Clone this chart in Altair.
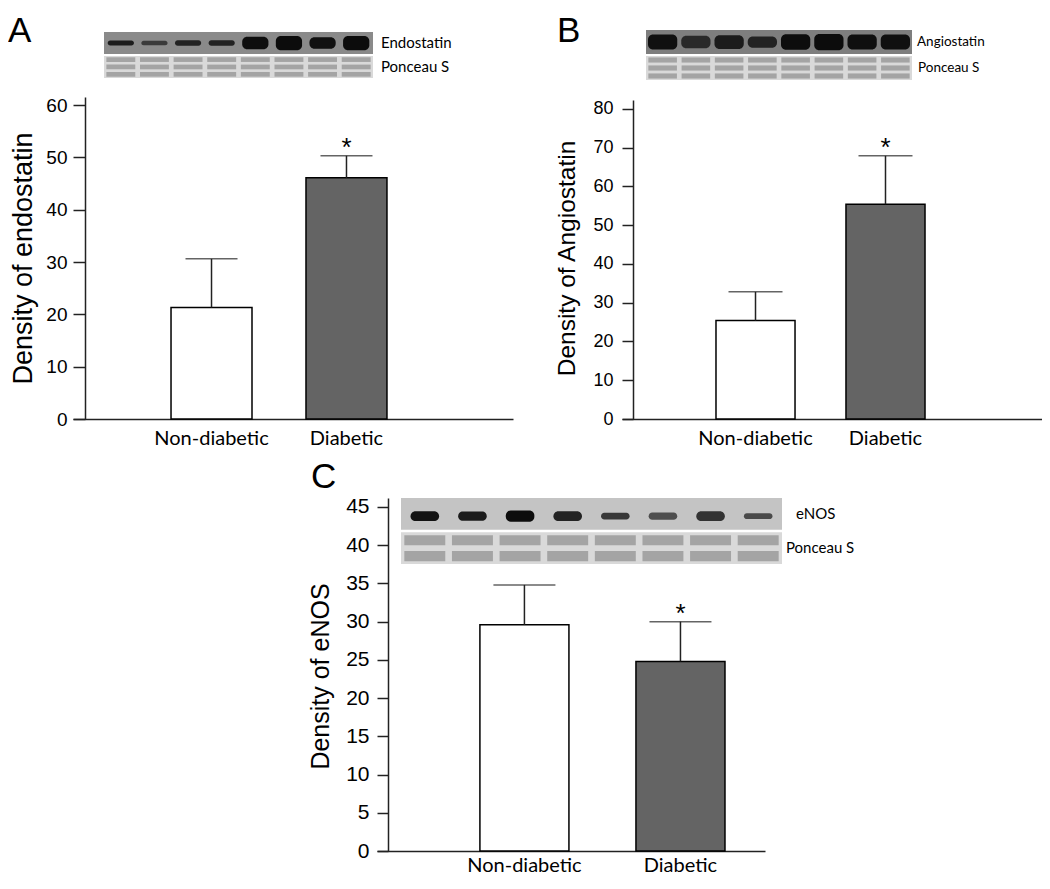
import altair as alt
import pandas as pd

# ---------------- data ----------------
groups = ["Non-diabetic", "Diabetic"]
significance = ["", "*"]

endostatin_mean = [21.3, 46.1]
endostatin_upper = [30.6, 50.3]
angiostatin_mean = [25.4, 55.4]
angiostatin_upper = [32.8, 67.9]
enos_mean = [29.6, 24.8]
enos_upper = [34.8, 30.0]

ticks_a = [0, 10, 20, 30, 40, 50, 60]
ticks_b = [0, 10, 20, 30, 40, 50, 60, 70, 80]
ticks_c = [0, 5, 10, 15, 20, 25, 30, 35, 40, 45]

lanes = [1, 2, 3, 4, 5, 6, 7, 8]
endostatin_density = [0.85, 0.6, 0.8, 0.8, 0.97, 0.98, 0.95, 0.98]
endostatin_thickness = [0.22, 0.2, 0.24, 0.24, 0.55, 0.62, 0.5, 0.62]
angiostatin_density = [0.95, 0.72, 0.85, 0.78, 0.97, 0.98, 0.96, 0.95]
angiostatin_thickness = [0.6, 0.5, 0.55, 0.45, 0.62, 0.65, 0.6, 0.6]
enos_density = [0.95, 0.9, 0.98, 0.85, 0.72, 0.6, 0.75, 0.62]
enos_thickness = [0.3, 0.28, 0.34, 0.3, 0.2, 0.22, 0.3, 0.18]

SANS = "Liberation Sans"
HUM = "Lato"
INK = "#222222"
W, H = 1034, 872


def panel(mean, upper, yticks, ytop, yrange, xrange, pin, pout, align,
          xoff, yoff, title, title_size, label_size, tick_len, label_pad,
          title_x, title_y, cap, xlabel_size, xlabel_pad):
    df = pd.DataFrame({"group": groups, "mean": mean, "upper": upper,
                       "sig": significance})
    xs = alt.Scale(domain=groups, range=xrange, paddingInner=pin,
                   paddingOuter=pout, align=align)
    xax = alt.Axis(orient="bottom", offset=xoff, ticks=False, domainWidth=1.5,
                   domainColor=INK, labelFont=HUM, labelFontSize=xlabel_size,
                   labelColor="black", labelPadding=xlabel_pad, labelAngle=0,
                   title=None, grid=False)
    ys = alt.Scale(domain=[0, ytop], range=yrange, nice=False, zero=False)
    yax = alt.Axis(orient="left", offset=yoff, values=yticks, tickSize=tick_len,
                   tickWidth=1.5, tickColor=INK, domainWidth=1.5,
                   domainColor=INK, labelFont=SANS, labelFontSize=label_size,
                   labelColor="black", labelPadding=label_pad, grid=False,
                   title=title, titleFont=SANS, titleFontSize=title_size,
                   titleFontWeight="normal", titleColor="black",
                   titleAngle=270, titleAlign="center", titleBaseline="middle",
                   titleX=title_x, titleY=title_y)
    X = alt.X("group:N", scale=xs, axis=xax, sort=groups)
    base = alt.Chart(df)
    bars = base.mark_bar(stroke="black", strokeWidth=1.5).encode(
        x=X,
        y=alt.Y("mean:Q", scale=ys, axis=yax),
        fill=alt.Fill("group:N", scale=alt.Scale(domain=groups,
                      range=["#ffffff", "#646464"]), legend=None),
    )
    err = base.mark_rule(color=INK, strokeWidth=1.5).encode(
        x=X, y=alt.Y("mean:Q", scale=ys, axis=yax), y2="upper:Q")
    caps = base.mark_tick(color=INK, thickness=1.5, size=cap).encode(
        x=X, y=alt.Y("upper:Q", scale=ys, axis=yax))
    star = base.mark_text(font=SANS, fontSize=26, baseline="alphabetic",
                          color="black").encode(
        x=X, y=alt.Y("upper:Q", scale=ys, axis=yax), text="sig:N")
    return alt.layer(bars, err, caps, star)


def blot(density, thickness, xrange, yrange, bg, band_w, band_c,
         top_label, label_size, dx_top, dx_bot, n_stripes):
    xs = alt.Scale(domain=[0.5, 8.5], range=xrange, nice=False, zero=False)
    ys = alt.Scale(domain=[0, 2], range=yrange, nice=False, zero=False)
    rows = pd.DataFrame({"x0": [0.5, 0.5], "x1": [8.5, 8.5],
                         "y0": [1.04, 0.0], "y1": [2.0, 0.96],
                         "row": ["target", "ponceau"]})
    background = alt.Chart(rows).mark_rect().encode(
        x=alt.X("x0:Q", scale=xs, axis=None), x2="x1:Q",
        y=alt.Y("y0:Q", scale=ys, axis=None), y2="y1:Q",
        fill=alt.Fill("row:N", scale=alt.Scale(domain=["target", "ponceau"],
                      range=[bg, "#d9d9d9"]), legend=None),
    )
    st = []
    for ln in lanes:
        for k in range(n_stripes):
            c = (k + 0.5) / n_stripes * 0.96
            st.append({"lane": ln, "c": c})
    stripes = pd.DataFrame(st)
    half = 0.96 / n_stripes * 0.32
    pon = alt.Chart(stripes).mark_rect(fill="#a4a4a4").transform_calculate(
        x0="datum.lane - 0.43", x1="datum.lane + 0.43",
        y0=f"datum.c - {half}", y1=f"datum.c + {half}",
    ).encode(
        x=alt.X("x0:Q", scale=xs, axis=None), x2="x1:Q",
        y=alt.Y("y0:Q", scale=ys, axis=None), y2="y1:Q",
    )
    bdf = pd.DataFrame({"lane": lanes, "density": density,
                        "thickness": thickness})
    bands = alt.Chart(bdf).mark_rect(cornerRadius=5).transform_calculate(
        x0=f"datum.lane - {band_w / 2}", x1=f"datum.lane + {band_w / 2}",
        y0=f"{band_c} - datum.thickness / 2",
        y1=f"{band_c} + datum.thickness / 2",
    ).encode(
        x=alt.X("x0:Q", scale=xs, axis=None), x2="x1:Q",
        y=alt.Y("y0:Q", scale=ys, axis=None), y2="y1:Q",
        fill=alt.Fill("density:Q", scale=alt.Scale(domain=[0, 1],
                      range=[bg, "#080808"]), legend=None),
    )
    lab = pd.DataFrame({"x": [8.5], "yt": [1.52], "yb": [0.48],
                        "t": [top_label], "b": ["Ponceau S"]})
    t1 = alt.Chart(lab).mark_text(font=HUM, fontSize=label_size, align="left",
                                  baseline="middle", dx=dx_top,
                                  color="black").encode(
        x=alt.X("x:Q", scale=xs, axis=None),
        y=alt.Y("yt:Q", scale=ys, axis=None), text="t:N")
    t2 = alt.Chart(lab).mark_text(font=HUM, fontSize=label_size, align="left",
                                  baseline="middle", dx=dx_bot,
                                  color="black").encode(
        x=alt.X("x:Q", scale=xs, axis=None),
        y=alt.Y("yb:Q", scale=ys, axis=None), text="b:N")
    return alt.layer(background, pon, bands, t1, t2)


pA = panel(endostatin_mean, endostatin_upper, ticks_a, 61.53, [411, 89],
           [65, 505], 0.4, 0.83, 0.4375, 411 - H, -77,
           "Density of endostatin", 27, 19, 12, 6, -62, 250, 52, 20, 9)
pB = panel(angiostatin_mean, angiostatin_upper, ticks_b, 82.3, [411, 92],
           [614, 1034], 0.392, 0.8115, 0.4455, 411 - H, -625,
           "Density of Angiostatin", 24.5, 18, 11, 9, -66, 250, 54, 20, 9)
pC = panel(enos_mean, enos_upper, ticks_c, 46.17, [843, 490],
           [369, 757], 0.4295, 0.458, 0.72, 843 - H, -380,
           "Density of eNOS", 25, 21, 11, 8, -68, 668, 62, 20, 4)

bA = blot(endostatin_density, endostatin_thickness, [96, 365], [70, 24],
          "#8a8a8a", 0.78, 1.52, "Endostatin", 15, 8, 8, 3)
bB = blot(angiostatin_density, angiostatin_thickness, [638, 904], [72, 22],
          "#7e7e7e", 0.88, 1.52, "Angiostatin", 13.5, 5, 6, 3)
bC = blot(enos_density, enos_thickness, [393, 774], [556, 490],
          "#c4c4c4", 0.6, 1.45, "eNOS", 15, 14, 4, 2)


def letter(ch, x, y):
    return alt.Chart(pd.DataFrame({"t": [ch]})).mark_text(
        font=SANS, fontSize=35, align="left", baseline="top",
        color="black").encode(x=alt.value(x), y=alt.value(y), text="t:N")


chart = alt.layer(
    bA, bB, bC, pA, pB, pC,
    letter("A", 0, 6), letter("B", 549, 6), letter("C", 303, 452),
).resolve_scale(
    x="independent", y="independent", fill="independent"
).resolve_axis(
    x="independent", y="independent"
).properties(
    width=W, height=H, padding=0, autosize=alt.AutoSizeParams(type="none")
).configure_view(stroke=None)

chart.save("out.html", embed_options={"renderer": "svg", "actions": False})
